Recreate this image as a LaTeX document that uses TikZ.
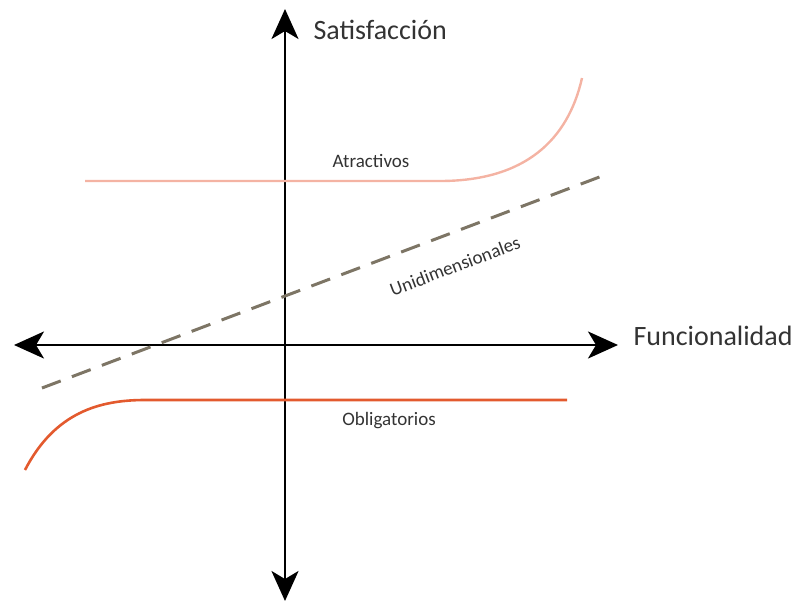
\documentclass[tikz,border=0pt]{standalone}
\usepackage{fontspec}
\setmainfont{Carlito}
\usetikzlibrary{arrows.meta,positioning,calc}
\definecolor{attract}{HTML}{F4B3A3}
\definecolor{oblig}{HTML}{E35A2E}
\definecolor{unidim}{HTML}{7D7565}
\definecolor{labeltext}{HTML}{333333}

\begin{document}
\begin{tikzpicture}[x=1pt, y=-1pt,
  axis/.style={line width=2.6pt, {Stealth[length=30pt, width=27pt, inset=8pt]}-{Stealth[length=30pt, width=27pt, inset=8pt]}},
  big/.style={text=labeltext, font=\fontsize{28}{32}\selectfont},
  small/.style={text=labeltext, font=\fontsize{19}{22}\selectfont, inner sep=1pt}]
  \useasboundingbox (0,0) rectangle (800,603);
  % axes
  \coordinate (left) at (14,345);
  \coordinate (right) at (618,345);
  \coordinate (top) at (285,9);
  \coordinate (bottom) at (285,601);
  \draw[axis] (left) -- (right);
  \draw[axis] (bottom) -- (top);
  \node[big, anchor=west] (satis) at (310,30) {Satisfacción};
  \node[big, anchor=west] (func) at (630,336) {Funcionalidad};
  % curves
  \coordinate (a0) at (85,181);
  \coordinate (a1) at (440,181);
  \coordinate (a2) at (582,78);
  \draw[attract, line width=2.4pt] (a0) -- (a1) .. controls (525,181) and (568,140) .. (a2);
  \node[small] (attr) at (371,161) {Atractivos};
  \coordinate (u0) at (42,388);
  \coordinate (u1) at (610,173);
  \draw[unidim, line width=3pt, dash pattern=on 20pt off 12pt] (u0) -- (u1);
  \node[small, rotate=20.7] (unid) at (455,266) {Unidimensionales};
  \coordinate (o0) at (25,470);
  \coordinate (o1) at (145,400);
  \coordinate (o2) at (567,400);
  \draw[oblig, line width=2.6pt] (o0) .. controls (55,412) and (100,400) .. (o1) -- (o2);
  \node[small] (oblg) at (389,421) {Obligatorios};
\end{tikzpicture}
\end{document}
